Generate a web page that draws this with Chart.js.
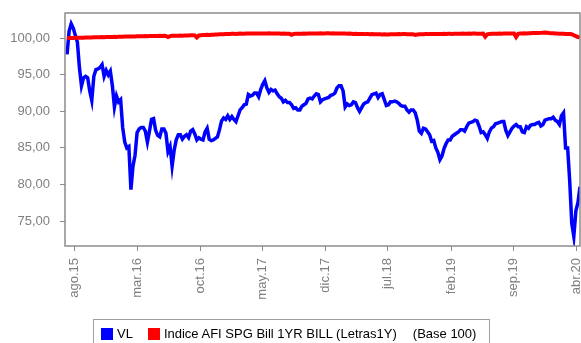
<!DOCTYPE html>
<html>
<head>
<meta charset="utf-8">
<script src="https://cdn.jsdelivr.net/npm/chart.js@4/dist/chart.umd.min.js"></script>
<style>
  html, body { margin: 0; padding: 0; background: #fff; }
  #wrap { position: relative; width: 581px; height: 343px; overflow: hidden; }
  #leyenda {
    position: absolute; left: 93px; top: 319px; width: 397px; height: 40px;
    border: 1px solid #a0a0a0; box-sizing: border-box;
    font: 13px "Liberation Sans", Arial, sans-serif; color: #000;
    display: flex; align-items: flex-start; padding: 6px 0 0 7px;
  }
  #leyenda .item { display: flex; align-items: center; white-space: nowrap; }
  #leyenda .cuadro { width: 12px; height: 12px; margin-right: 4px; }
</style>
</head>
<body>
<div id="wrap">
  <canvas id="grafico" width="581" height="343"></canvas>
  <div id="leyenda"></div>
</div>
<script>
// weekly closes, first week below
const inicio = "2015-07-07";

// valor liquidativo (base 100)
const vl = [
  97.8, 101.0, 102.0, 101.4, 100.4, 99.5, 96.0, 93.5, 94.6, 94.8,
  94.6, 92.8, 91.5, 94.8, 95.7, 95.8, 96.0, 96.4, 94.8, 95.6,
  95.0, 95.5, 93.5, 90.6, 92.1, 91.3, 91.6, 87.8, 85.8, 85.0,
  85.2, 79.3, 82.5, 84.0, 87.1, 87.6, 87.8, 87.8, 87.3, 85.8,
  87.3, 88.9, 89.0, 87.4, 86.7, 86.5, 87.6, 87.6, 87.0, 84.5,
  85.2, 82.5, 84.7, 86.1, 86.8, 86.8, 86.2, 86.6, 86.8, 86.4,
  87.3, 87.5, 86.9, 86.1, 86.4, 86.2, 86.1, 87.2, 87.7, 86.2,
  86.0, 86.1, 86.3, 86.5, 87.5, 88.7, 89.1, 88.9, 89.4, 88.9,
  89.3, 88.9, 88.6, 89.4, 90.2, 90.5, 90.9, 91.0, 92.3, 92.1,
  92.2, 92.5, 92.5, 92.0, 93.0, 93.7, 94.2, 93.2, 92.6, 93.0,
  92.8, 92.9, 92.4, 92.0, 91.8, 91.3, 91.5, 91.2, 91.2, 90.9,
  90.4, 90.5, 90.2, 90.2, 90.7, 90.9, 91.1, 91.7, 91.8, 91.7,
  92.1, 92.4, 92.3, 91.3, 91.6, 91.7, 91.8, 91.9, 92.2, 92.3,
  92.5, 93.2, 93.5, 93.5, 92.8, 90.6, 91.0, 90.8, 90.9, 91.3,
  91.2, 90.5, 90.0, 90.5, 91.0, 91.2, 91.3, 91.8, 92.3, 92.4,
  92.5, 91.9, 92.3, 92.4, 91.6, 90.8, 90.9, 91.3, 91.3, 91.4,
  91.3, 91.1, 90.8, 90.7, 90.7, 90.2, 89.9, 90.2, 90.2, 89.8,
  88.8, 87.3, 87.0, 87.7, 87.6, 87.2, 86.8, 85.9, 86.0, 85.0,
  84.4, 83.4, 83.9, 84.9, 85.6, 86.1, 86.1, 86.6, 86.8, 87.0,
  87.2, 87.5, 87.5, 87.3, 87.9, 88.4, 88.5, 88.6, 88.8, 88.7,
  88.0, 87.1, 87.2, 86.8, 86.3, 87.2, 87.7, 87.9, 88.3, 88.4,
  88.5, 88.6, 88.6, 87.4, 86.7, 87.2, 87.7, 88.0, 88.2, 87.9,
  87.9, 87.2, 87.1, 87.9, 87.7, 88.1, 88.2, 88.2, 88.4, 88.5,
  88.0, 88.2, 88.8, 88.9, 89.0, 89.0, 89.2, 88.8, 88.6, 88.2,
  89.4, 89.8, 85.0, 85.0, 80.5, 74.7, 72.9, 76.4, 77.5, 79.7
];

// indice AFI SPG Bill 1YR (Letras1Y), base 100
const letras = [
  100.02, 100.04, 100.05, 100.05, 100.07, 100.06, 100.08, 100.09, 100.08, 100.10,
  100.11, 100.12, 100.11, 100.13, 100.14, 100.13, 100.15, 100.16, 100.15, 100.17,
  100.18, 100.17, 100.19, 100.20, 100.19, 100.21, 100.22, 100.21, 100.23, 100.24,
  100.23, 100.25, 100.26, 100.25, 100.27, 100.28, 100.27, 100.29, 100.30, 100.29,
  100.30, 100.31, 100.30, 100.32, 100.31, 100.33, 100.32, 100.33, 100.31, 100.18,
  100.30, 100.34, 100.35, 100.34, 100.36, 100.37, 100.36, 100.38, 100.37, 100.39,
  100.40, 100.41, 100.40, 100.12, 100.38, 100.42, 100.44, 100.45, 100.47, 100.46,
  100.48, 100.50, 100.52, 100.51, 100.54, 100.56, 100.55, 100.58, 100.60, 100.59,
  100.61, 100.62, 100.60, 100.63, 100.64, 100.62, 100.63, 100.65, 100.64, 100.66,
  100.64, 100.65, 100.67, 100.66, 100.64, 100.65, 100.67, 100.66, 100.68, 100.67,
  100.65, 100.66, 100.64, 100.65, 100.63, 100.64, 100.62, 100.63, 100.61, 100.48,
  100.60, 100.62, 100.63, 100.61, 100.62, 100.64, 100.63, 100.65, 100.66, 100.64,
  100.65, 100.67, 100.66, 100.68, 100.67, 100.66, 100.68, 100.69, 100.67, 100.68,
  100.66, 100.67, 100.65, 100.66, 100.64, 100.65, 100.63, 100.64, 100.62, 100.60,
  100.61, 100.59, 100.60, 100.58, 100.59, 100.57, 100.58, 100.56, 100.57, 100.55,
  100.56, 100.54, 100.55, 100.53, 100.54, 100.52, 100.53, 100.55, 100.54, 100.56,
  100.55, 100.57, 100.56, 100.58, 100.57, 100.55, 100.56, 100.54, 100.55, 100.47,
  100.52, 100.54, 100.55, 100.56, 100.58, 100.57, 100.59, 100.58, 100.60, 100.59,
  100.58, 100.60, 100.59, 100.61, 100.60, 100.62, 100.61, 100.60, 100.62, 100.61,
  100.63, 100.62, 100.64, 100.63, 100.62, 100.64, 100.63, 100.65, 100.64, 100.63,
  100.62, 100.61, 100.63, 100.22, 100.55, 100.60, 100.62, 100.61, 100.63, 100.62,
  100.64, 100.63, 100.65, 100.64, 100.66, 100.65, 100.64, 100.66, 100.18, 100.60,
  100.65, 100.66, 100.68, 100.67, 100.69, 100.70, 100.72, 100.71, 100.73, 100.72,
  100.74, 100.76, 100.78, 100.75, 100.72, 100.70, 100.68, 100.66, 100.64, 100.63,
  100.62, 100.61, 100.60, 100.58, 100.57, 100.55, 100.42, 100.28, 100.18, 100.14
];

const series = [
  { nombre: "VL", color: "#0000ff", valores: vl, grosor: 3.5 },
  { nombre: "Indice AFI SPG Bill 1YR BILL (Letras1Y)", color: "#ff0000", valores: letras, grosor: 4 }
];
const notaLeyenda = "(Base 100)";

// x axis marks every 7 months
const ticksFechas = ["2015-08-01", "2016-03-01", "2016-10-01", "2017-05-01", "2017-12-01",
                     "2018-07-01", "2019-02-01", "2019-09-01", "2020-04-01"];
const ticksEtiquetas = ["ago.15", "mar.16", "oct.16", "may.17", "dic.17",
                        "jul.18", "feb.19", "sep.19", "abr.20"];
const ticksY = [75, 80, 85, 90, 95, 100];

const DIA = 864e5;
const t0 = Date.parse(inicio);
const aPuntos = (vals) => vals.map((v, i) => ({ x: t0 + i * 7 * DIA, y: v }));

const gris = "#8c8c8c";
const fuente = { family: "'Liberation Sans', Arial, sans-serif", size: 13 };

// frame around the plot area
const marco = {
  id: "marco",
  afterDraw(chart) {
    const { ctx, chartArea: a } = chart;
    ctx.save();
    ctx.strokeStyle = gris;
    ctx.lineWidth = 1.5;
    ctx.strokeRect(a.left, a.top, a.right - a.left, a.bottom - a.top);
    ctx.restore();
  }
};

const sinPadding = (scale) => {
  scale.paddingLeft = scale.paddingRight = scale.paddingTop = scale.paddingBottom = 0;
};

new Chart(document.getElementById("grafico"), {
  type: "line",
  data: {
    datasets: series.map((s) => ({
      label: s.nombre,
      data: aPuntos(s.valores),
      borderColor: s.color,
      backgroundColor: s.color,
      borderWidth: s.grosor,
      pointRadius: 0,
      tension: 0,
      fill: false
    })).reverse() // red drawn first, blue on top
  },
  options: {
    responsive: false,
    animation: false,
    events: [],
    layout: { padding: { top: 13, right: 1, left: 0, bottom: 0 } },
    plugins: { legend: { display: false }, tooltip: { enabled: false } },
    scales: {
      x: {
        type: "linear",
        min: Date.parse("2015-06-30"),
        max: Date.parse("2020-04-14"),
        border: { display: false },
        grid: { drawOnChartArea: false, drawTicks: true, tickLength: 5, color: gris },
        ticks: {
          minRotation: 90,
          maxRotation: 90,
          padding: 7,
          color: "#7f7f7f",
          font: fuente,
          callback: (v) => ticksEtiquetas[ticksFechas.map(Date.parse).indexOf(v)] || ""
        },
        afterBuildTicks: (scale) => {
          scale.ticks = ticksFechas.map((d) => ({ value: Date.parse(d) }));
        },
        afterFit: (scale) => { scale.height = 97; sinPadding(scale); }
      },
      y: {
        min: 71.58,
        max: 103.46,
        border: { display: false },
        grid: { drawOnChartArea: false, drawTicks: true, tickLength: 5, color: gris },
        ticks: {
          padding: 10,
          color: "#7f7f7f",
          font: fuente,
          callback: (v) => v.toFixed(2).replace(".", ",")
        },
        afterBuildTicks: (scale) => {
          scale.ticks = ticksY.map((v) => ({ value: v }));
        },
        afterFit: (scale) => { scale.width = 65; sinPadding(scale); }
      }
    }
  },
  plugins: [marco]
});

// legend box under the chart
const leyenda = document.getElementById("leyenda");
series.forEach((s, i) => {
  const item = document.createElement("span");
  item.className = "item";
  item.style.marginRight = i === 0 ? "15px" : "16px";
  item.innerHTML = '<span class="cuadro" style="background:' + s.color + '"></span>' + s.nombre;
  leyenda.appendChild(item);
});
const nota = document.createElement("span");
nota.textContent = notaLeyenda;
leyenda.appendChild(nota);
</script>
</body>
</html>
